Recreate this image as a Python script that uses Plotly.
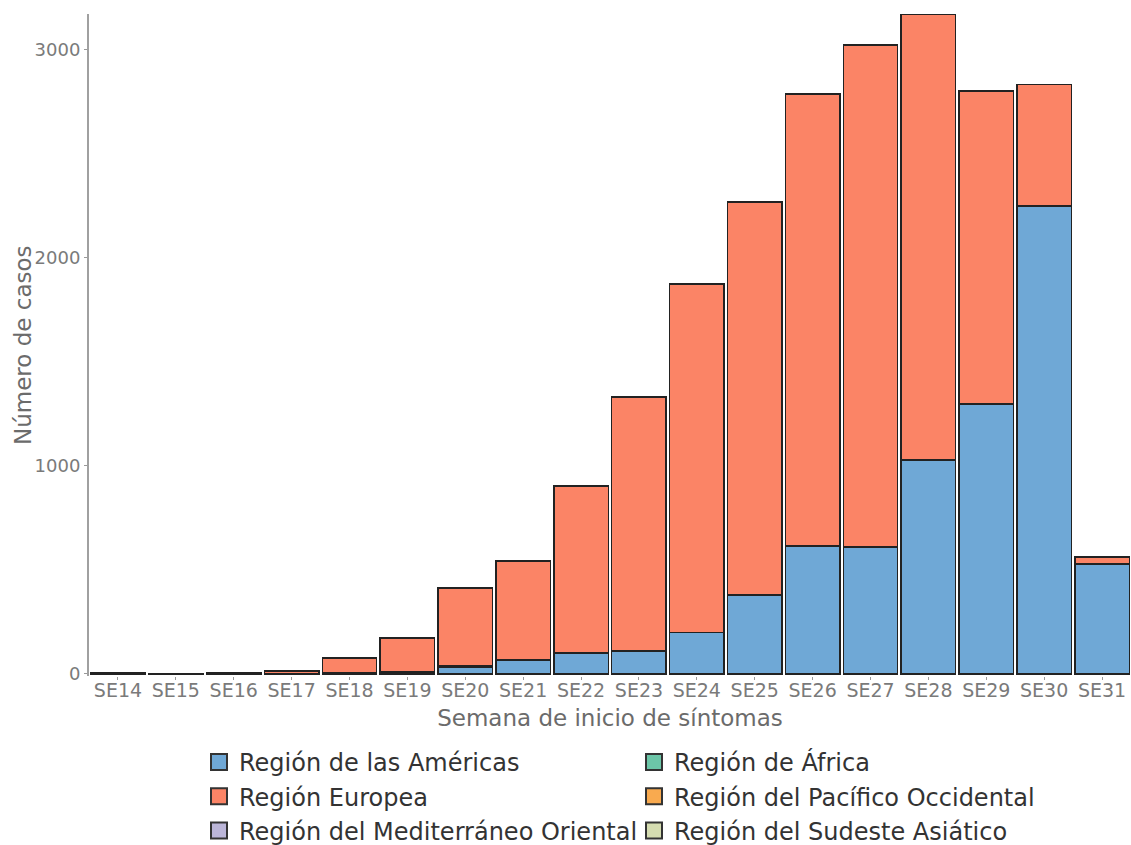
import plotly.graph_objects as go

weeks = ["SE14", "SE15", "SE16", "SE17", "SE18", "SE19", "SE20", "SE21", "SE22",
         "SE23", "SE24", "SE25", "SE26", "SE27", "SE28", "SE29", "SE30", "SE31"]

americas = [0, 0, 0, 2, 5, 10, 30, 67, 100, 110, 200, 380, 615, 610, 1027, 1296, 2247, 528]
europea = [8, 3, 4, 13, 72, 163, 375, 475, 803, 1220, 1672, 1886, 2170, 2410, 2141, 1503, 585, 34]
mediterraneo = [0, 0, 0, 0, 0, 0, 8, 0, 0, 0, 0, 0, 0, 0, 0, 0, 0, 0]
africa = [0] * 18
pacifico = [0] * 18
sudeste = [0] * 18

series = [
    ("Región de las Américas", americas, "#6fa8d6", 1),
    ("Región de África", africa, "#6cc6a8", 2),
    ("Región Europea", europea, "#fb8466", 3),
    ("Región del Pacífico Occidental", pacifico, "#f9aa4f", 4),
    ("Región del Mediterráneo Oriental", mediterraneo, "#bbb5d8", 5),
    ("Región del Sudeste Asiático", sudeste, "#d5dcb0", 6),
]

stack_order = [0, 4, 2, 1, 3, 5]

fig = go.Figure()
for i in stack_order:
    name, vals, col, rank = series[i]
    fig.add_trace(go.Bar(
        x=weeks, y=vals, name=name, showlegend=False,
        marker=dict(color=col, line=dict(color="#222222", width=1.5)),
    ))

for name, vals, col, rank in series:
    fig.add_trace(go.Scatter(
        x=[None], y=[None], mode="markers", name=name, legendrank=rank,
        marker=dict(symbol="square", size=18, color=col,
                    line=dict(color="#333333", width=2)),
    ))

W, H = 1131, 845
fig.update_layout(
    barmode="stack",
    bargap=0.06,
    width=W, height=H,
    margin=dict(l=89, r=0, t=14, b=169, autoexpand=False),
    plot_bgcolor="white",
    paper_bgcolor="white",
    font=dict(family="DejaVu Sans", color="#777777"),
    legend=dict(
        orientation="h",
        xref="container", yref="container",
        x=199 / W, xanchor="left",
        y=1 - 740 / H, yanchor="top",
        entrywidthmode="pixels", entrywidth=390,
        font=dict(size=24, color="#333333"),
        itemsizing="trace",
        traceorder="normal",
    ),
    annotations=[dict(
        text="Número de casos", xref="paper", yref="paper",
        x=(23 - 89) / 1042, y=0.5, xanchor="center", yanchor="middle",
        textangle=-90, showarrow=False,
        font=dict(size=23, color="#6b6b6b"),
    )],
)

fig.update_xaxes(
    automargin=False,
    showline=False, showgrid=False, zeroline=False,
    ticks="outside", ticklen=3, tickcolor="#999999",
    ticklabelstandoff=-6,
    tickfont=dict(size=19, color="#7a7a7a"),
    title=dict(text="Semana de inicio de síntomas", font=dict(size=23, color="#6b6b6b"), standoff=10),
    range=[-0.5, 17.5],
)
fig.update_yaxes(
    automargin=False,
    showline=True, linecolor="#a0a0a0", linewidth=2,
    showgrid=False, zeroline=False,
    ticks="outside", ticklen=3, tickcolor="#999999",
    tickvals=[0, 1000, 2000, 3000],
    tickfont=dict(size=18, color="#7a7a7a"),
    range=[-10, 3170],
)

fig.write_html(
    "out.html",
    config={"displayModeBar": False},
    post_script="document.body.style.margin='0';document.documentElement.style.overflow='hidden';",
)
